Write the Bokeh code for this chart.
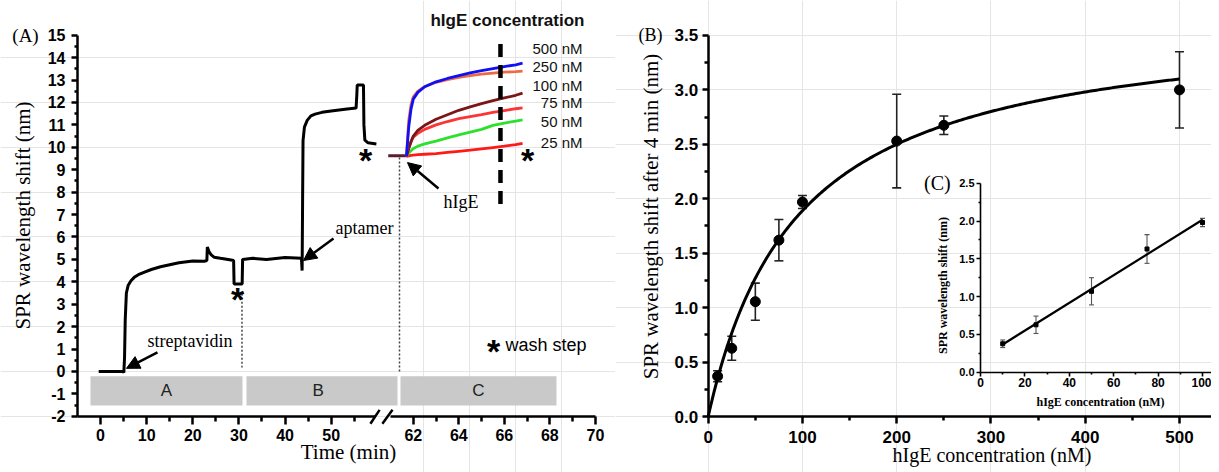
import numpy as np
from bokeh.plotting import figure
from bokeh.layouts import row
from bokeh.models import (Range1d, LinearAxis, FixedTicker, Arrow, NormalHead,
                          TeeHead, Whisker, ColumnDataSource, CustomJSTickFormatter,
                          NumeralTickFormatter, PrintfTickFormatter)
from bokeh.core.properties import value
from bokeh.embed import file_html
from bokeh.resources import INLINE

SANS = "Liberation Sans"
SERIF = "Liberation Serif"

# ---------------- Panel A data (time in min, shift in nm) ----------------
TRACE_T = [-0.4, 4.9, 5.05, 5.2, 5.35, 5.6, 6.0, 6.6, 7.3, 8.2, 9.4, 11, 13, 15, 17, 20, 22.5,
           23.05, 23.15, 23.5, 24.0, 24.6, 26, 28.3, 28.85, 28.95, 30.7, 30.8, 33, 36, 40, 43.55,
           43.7, 43.8, 43.9, 44.2, 44.8, 45.6, 46.5, 48, 50, 53, 55.4, 55.55, 55.65, 57.0, 57.1,
           57.3, 58, 59.8]
TRACE_Y = [0, 0, -0.05, 0.6, 2.3, 3.5, 3.85, 4.05, 4.2, 4.32, 4.42, 4.55, 4.67, 4.76, 4.85, 4.93, 4.92,
           4.95, 5.55, 5.35, 5.2, 5.1, 5.05, 4.97, 4.95, 3.9, 3.9, 5.0, 5.05, 5.0, 5.08, 5.05,
           4.5, 7.5, 10.3, 10.9, 11.2, 11.4, 11.48, 11.56, 11.62, 11.7, 11.75, 12.3, 12.78, 12.78, 11.0,
           10.32, 10.2, 10.15]

BASE_T = [60.9, 61.7]
BASE_Y = [9.62, 9.62]

KIN_T = [61.7, 61.8, 61.9, 62.0, 62.2, 62.5, 63.0, 63.5, 64.0, 64.5, 65.0, 65.5, 66.0, 66.5, 66.8]
KIN_500 = [9.6, 10.9, 11.7, 12.15, 12.45, 12.7, 12.92, 13.07, 13.2, 13.32, 13.42, 13.51, 13.6, 13.68, 13.75]
KIN_250 = [9.6, 11.2, 11.9, 12.25, 12.5, 12.7, 12.9, 13.02, 13.12, 13.2, 13.26, 13.31, 13.35, 13.38, 13.4]
KIN_100 = [9.6, 9.95, 10.25, 10.5, 10.75, 10.98, 11.25, 11.45, 11.65, 11.8, 11.95, 12.08, 12.2, 12.32, 12.42]
KIN_75 = [9.6, 9.95, 10.25, 10.45, 10.62, 10.8, 11.0, 11.15, 11.28, 11.37, 11.46, 11.56, 11.64, 11.72, 11.76]
KIN_50 = [9.6, 9.75, 9.85, 9.95, 10.05, 10.15, 10.28, 10.42, 10.55, 10.68, 10.8, 10.98, 11.08, 11.17, 11.22]
KIN_25 = [9.6, 9.62, 9.64, 9.65, 9.67, 9.69, 9.72, 9.77, 9.82, 9.87, 9.93, 9.99, 10.05, 10.12, 10.18]
KIN_LABELS = ["500 nM", "250 nM", "100 nM", "75 nM", "50 nM", "25 nM"]
KIN_LABEL_Y = [14.41, 13.60, 12.76, 12.0, 11.15, 10.21]
KIN_COLORS = ["#1010f5", "#ef6a44", "#7a1616", "#fb3535", "#2ee02e", "#ff1a1a"]

STEP_NAMES = ["A", "B", "C"]
X_TICKS_1 = [0, 10, 20, 30, 40, 50]
X_MINOR_1 = [5, 15, 25, 35, 45, 55]
X_TICKS_2 = [62, 64, 66, 68, 70]
X_MINOR_2 = [63, 65, 67, 69]
WASH_T = 65.83  # the "after 4 min" read-out time

# ---------------- Panel B / C data ----------------
CONC = [10, 25, 50, 75, 100, 200, 250, 500]
SHIFT = [0.37, 0.627, 1.055, 1.62, 1.97, 2.53, 2.675, 3.0]
ERR = [0.05, 0.11, 0.17, 0.19, 0.06, 0.43, 0.085, 0.35]
FIT_BMAX, FIT_KD = 3.69, 95.2   # Langmuir fit drawn in (B)

C_CONC = [10, 25, 50, 75, 100]
C_SHIFT = [0.376, 0.627, 1.07, 1.63, 1.98]
C_ERR = [0.05, 0.115, 0.18, 0.19, 0.055]

# ---------------- broken time axis ----------------
SEG2_AT_62 = 67.8
SEG2_SCALE = 4.935


def seg2(t):
    return SEG2_AT_62 + (np.asarray(t, dtype=float) - 62.0) * SEG2_SCALE


def style_axis(ax, size, lw, out, mout, standoff):
    ax.axis_line_width = lw
    ax.axis_line_color = "black"
    ax.major_tick_line_width = lw
    ax.minor_tick_line_width = lw
    ax.major_tick_out = out
    ax.major_tick_in = 0
    ax.minor_tick_out = mout
    ax.minor_tick_in = 0
    ax.major_label_text_font = SANS
    ax.major_label_text_font_style = "bold"
    ax.major_label_text_font_size = size
    ax.major_label_text_color = "black"
    ax.major_label_standoff = standoff


def txt(p, x, y, s, font, size, align="center", style="normal", angle=0.0, color="black", **kw):
    p.text(x=[x], y=[y], text=[s], text_font=value(font), text_font_size=size,
           text_font_style=style, text_align=align, text_baseline="middle",
           angle=angle, text_color=color, **kw)


# ======================= Panel A =======================
pA = figure(width=615, height=472, min_border=0, title=None,
            x_range=Range1d(-21.69, 111.64), y_range=Range1d(-4.505, 16.548),
            x_axis_location=None, y_axis_location=None,
            toolbar_location=None, output_backend="svg")
pA.outline_line_color = None

yA = LinearAxis(fixed_location=-5, bounds=(-2, 15),
                ticker=FixedTicker(ticks=list(range(-2, 16)),
                                   minor_ticks=list(np.arange(-1.5, 15, 1.0))),
                formatter=PrintfTickFormatter(format="%d"))
style_axis(yA, "16px", 2.5, 6, 3, 6)
pA.add_layout(yA, "left")

xA1 = LinearAxis(fixed_location=-2, bounds=(-5, 59.6),
                 ticker=FixedTicker(ticks=X_TICKS_1, minor_ticks=X_MINOR_1))
style_axis(xA1, "16px", 2.5, 8, 5, 5)
pA.add_layout(xA1, "below")

xA2 = LinearAxis(fixed_location=-2, bounds=(float(seg2(61.0)), float(seg2(70))),
                 ticker=FixedTicker(ticks=[float(v) for v in seg2(X_TICKS_2)],
                                    minor_ticks=[float(v) for v in seg2(X_MINOR_2)]),
                 formatter=CustomJSTickFormatter(
                     code=f"return String(Math.round((tick - {SEG2_AT_62})/{SEG2_SCALE} + 62));"))
style_axis(xA2, "16px", 2.5, 8, 5, 5)
pA.add_layout(xA2, "below")

# axis break marks
pA.segment(x0=[58.5, 61.1], y0=[-2.33, -2.33], x1=[60.5, 63.3], y1=[-1.71, -1.71],
           line_color="black", line_width=2.5)

# grey step bands
pA.quad(left=[-2.18, 31.64, 65.03], right=[30.77, 64.38, 98.85], bottom=-1.52, top=-0.21,
        fill_color="#c9c9c9", line_color=None)
pA.text(x=[14.3, 47.2, 81.94], y=[-0.86] * 3, text=STEP_NAMES, text_font=value(SANS),
        text_font_size="17px", text_color="#222222", text_align="center", text_baseline="middle")

# dotted guides
pA.segment(x0=[30.66, 64.81], y0=[3.47, 9.55], x1=[30.66, 64.81], y1=[0.18, -0.05],
           line_color="#444444", line_width=1.5, line_dash="2 2")

# black sensorgram
pA.line(TRACE_T, TRACE_Y, line_color="black", line_width=3)

# hIgE kinetics
pA.line(seg2(BASE_T), BASE_Y, line_color="#5c1a33", line_width=3)
for ys, col in zip([KIN_25, KIN_50, KIN_75, KIN_100, KIN_250, KIN_500],
                   [KIN_COLORS[5], KIN_COLORS[4], KIN_COLORS[3], KIN_COLORS[2], KIN_COLORS[1], KIN_COLORS[0]]):
    pA.line(seg2(KIN_T), ys, line_color=col, line_width=2.8)

pA.segment(x0=[float(seg2(WASH_T))], y0=[7.47], x1=[float(seg2(WASH_T))], y1=[14.67],
           line_color="black", line_width=4.5, line_dash="13 8")

pA.text(x=[104.48] * 6, y=KIN_LABEL_Y, text=KIN_LABELS, text_font=value(SANS),
        text_font_size="15px", text_color="#111111", text_align="right", text_baseline="middle")
txt(pA, 71.53, 15.66, "hIgE concentration", SANS, "17px", align="left", style="bold", color="#111111")

# annotations
pA.text(x=[10.18, 50.93, 74.35], y=[1.37, 6.38, 7.54], text=["streptavidin", "aptamer", "hIgE"],
        text_font=value(SERIF), text_font_size="18px", text_align="left", text_baseline="middle")
for xs, ys, xe, ye in [(12.34, 0.85, 5.62, 0.14), (50.5, 5.93, 44.0, 4.95), (73.26, 8.16, 66.54, 9.32)]:
    pA.add_layout(Arrow(end=NormalHead(size=13, fill_color="black", line_color="black", line_width=1),
                        x_start=xs, y_start=ys, x_end=xe, y_end=ye,
                        line_color="black", line_width=2.5))

pA.text(x=[29.69, 57.44, 92.56, 85.19], y=[3.52, 9.72, 9.72, 1.16], text=["*"] * 4,
        text_font=value(SANS), text_font_style="bold", text_font_size="34px",
        text_align="center", text_baseline="alphabetic", y_offset=6)
txt(pA, 87.79, 1.16, "wash step", SANS, "18px", align="left")

txt(pA, -16.27, 15.0, "(A)", SERIF, "19px")
txt(pA, -16.9, 6.96, "SPR wavelength shift (nm)", SERIF, "21px", angle=np.pi / 2)
txt(pA, 53.75, -3.61, "Time (min)", SERIF, "21px")

# ======================= Panel B =======================
pB = figure(width=596, height=472, min_border=0, title=None,
            x_range=Range1d(-98.35, 533.95), y_range=Range1d(-0.514, 3.821),
            x_axis_location=None, y_axis_location=None,
            toolbar_location=None, output_backend="svg")
pB.outline_line_color = None

xB = LinearAxis(fixed_location=0, bounds=(0, 534),
                ticker=FixedTicker(ticks=[0, 100, 200, 300, 400, 500],
                                   minor_ticks=[50, 150, 250, 350, 450]))
style_axis(xB, "17px", 2.5, 7, 4, 7)
pB.add_layout(xB, "below")
yB = LinearAxis(fixed_location=0, bounds=(0, 3.5),
                ticker=FixedTicker(ticks=list(np.arange(0, 3.51, 0.5)),
                                   minor_ticks=list(np.arange(0.25, 3.5, 0.5))),
                formatter=NumeralTickFormatter(format="0.0"))
style_axis(yB, "17px", 2.5, 6, 4, 4)
pB.add_layout(yB, "left")

fit_x = np.linspace(0, 500, 251)
pB.line(fit_x, FIT_BMAX * fit_x / (FIT_KD + fit_x), line_color="black", line_width=3)
srcB = ColumnDataSource(dict(x=CONC, y=SHIFT,
                             lo=[s - e for s, e in zip(SHIFT, ERR)],
                             hi=[s + e for s, e in zip(SHIFT, ERR)]))
pB.add_layout(Whisker(source=srcB, base="x", upper="hi", lower="lo", line_color="#222222",
                      line_width=1.6,
                      upper_head=TeeHead(size=9, line_color="#222222", line_width=1.6),
                      lower_head=TeeHead(size=9, line_color="#222222", line_width=1.6)))
pB.scatter("x", "y", source=srcB, size=10, color="black")

txt(pB, -61.2, 3.5, "(B)", SERIF, "18px")
txt(pB, -60.2, 1.837, "SPR wavelength shift after 4 min (nm)", SERIF, "21px", angle=np.pi / 2)
txt(pB, 301.1, -0.35, "hIgE concentration (nM)", SERIF, "20px")

# ---------------- inset (C) inside panel B ----------------
pB.extra_x_ranges = {"cx": Range1d(-164.41, 104.05)}
pB.extra_y_ranges = {"cy": Range1d(-1.327, 4.917)}

xC = LinearAxis(x_range_name="cx", y_range_name="cy", fixed_location=0, bounds=(0, 104),
                ticker=FixedTicker(ticks=[0, 20, 40, 60, 80, 100], minor_ticks=[10, 30, 50, 70, 90]))
style_axis(xC, "12px", 1.6, 4, 2, 2)
pB.add_layout(xC, "below")
yC = LinearAxis(x_range_name="cx", y_range_name="cy", fixed_location=0, bounds=(0, 2.5),
                ticker=FixedTicker(ticks=[0, 0.5, 1.0, 1.5, 2.0, 2.5],
                                   minor_ticks=[0.25, 0.75, 1.25, 1.75, 2.25]),
                formatter=NumeralTickFormatter(format="0.0"))
style_axis(yC, "11px", 1.6, 4, 2, 2)
pB.add_layout(yC, "left")

slope, icpt = np.polyfit(C_CONC, C_SHIFT, 1)
lin_x = np.array([C_CONC[0], C_CONC[-1]], dtype=float)
pB.line(lin_x, slope * lin_x + icpt, x_range_name="cx", y_range_name="cy",
        line_color="black", line_width=2.2)
srcC = ColumnDataSource(dict(x=C_CONC, y=C_SHIFT,
                             lo=[s - e for s, e in zip(C_SHIFT, C_ERR)],
                             hi=[s + e for s, e in zip(C_SHIFT, C_ERR)]))
pB.add_layout(Whisker(source=srcC, base="x", upper="hi", lower="lo", x_range_name="cx",
                      y_range_name="cy", line_color="#555555", line_width=1.1,
                      upper_head=TeeHead(size=5, line_color="#555555", line_width=1.1),
                      lower_head=TeeHead(size=5, line_color="#555555", line_width=1.1)))
pB.scatter("x", "y", source=srcC, x_range_name="cx", y_range_name="cy", marker="square",
           size=4, color="black")

txt(pB, -19.4, 2.5, "(C)", SERIF, "20px", x_range_name="cx", y_range_name="cy")
txt(pB, -16.7, 1.147, "SPR wavelength shift (nm)", SERIF, "12px", style="bold",
    angle=np.pi / 2, x_range_name="cx", y_range_name="cy")
txt(pB, 54.05, -0.397, "hIgE concentration (nM)", SERIF, "12px", style="bold",
    x_range_name="cx", y_range_name="cy")

layout = row(pA, pB)
open("out.html", "w").write(file_html(layout, INLINE))
